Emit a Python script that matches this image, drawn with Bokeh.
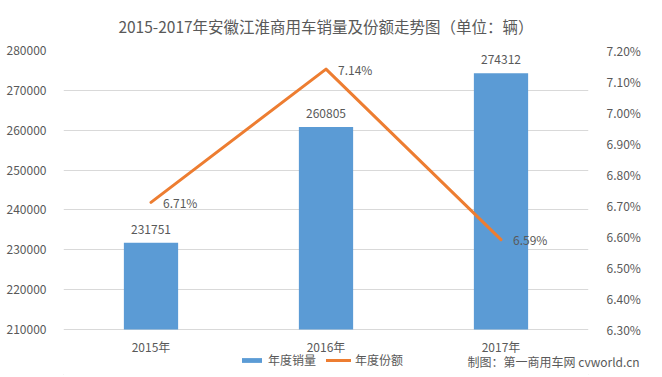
from bokeh.plotting import figure
from bokeh.models import (ColumnDataSource, Range1d, LinearAxis, FixedTicker, NumeralTickFormatter,
                          LabelSet, Legend, LegendItem, FactorRange)
from bokeh.core.properties import value
from bokeh.embed import file_html
from bokeh.resources import INLINE

# ---- data ----
years = ["2015年", "2016年", "2017年"]
sales = [231751, 260805, 274312]
share = [0.0671, 0.0714, 0.0659]
share_labels = ["6.71%", "7.14%", "6.59%"]
sales_ticks = [210000, 220000, 230000, 240000, 250000, 260000, 270000, 280000]
share_ticks = [0.063, 0.064, 0.065, 0.066, 0.067, 0.068, 0.069, 0.070, 0.071, 0.072]
series_names = ["年度销量", "年度份额"]
credit = "制图：第一商用车网 cvworld.cn"

FONT = "Noto Sans CJK SC"
TXT = "#595959"
GRID = "#D9D9D9"
BLUE = "#5B9BD5"
ORANGE = "#ED7D31"

# layout: frame spans from y=50 to bottom of canvas; axis value 210000 sits 48px above bottom
W, H, TOP, LEFT, RIGHT = 662, 377, 50, 63, 74
AXIS_PX = 279            # pixels between lowest and highest tick
BELOW_PX = H - TOP - AXIS_PX
s_lo, s_hi = sales_ticks[0], sales_ticks[-1]
p_lo, p_hi = share_ticks[0], share_ticks[-1]
s_start = s_lo - (s_hi - s_lo) * BELOW_PX / AXIS_PX
p_start = p_lo - (p_hi - p_lo) * BELOW_PX / AXIS_PX
CREDIT_ROW = 16          # px above canvas bottom

src = ColumnDataSource(dict(x=years, sales=sales, share=share,
                            sales_txt=[str(v) for v in sales], share_txt=share_labels))

p = figure(width=W, height=H, x_range=FactorRange(*years, range_padding=0),
           y_range=Range1d(s_start, s_hi), output_backend="svg", toolbar_location=None,
           x_axis_location=None,
           min_border_left=LEFT, min_border_right=RIGHT, min_border_top=TOP, min_border_bottom=0,
           styles={"outline": "1px solid #D9D9D9", "outline-offset": "-3px"})
p.outline_line_color = None
p.background_fill_color = "white"
p.border_fill_color = "white"

p.extra_y_ranges = {"pct": Range1d(p_start, p_hi), "px": Range1d(0, H - TOP)}

p.title.text = "2015-2017年安徽江淮商用车销量及份额走势图（单位：辆）"
p.title.align = "center"
p.title.vertical_align = "top"
p.title.text_font = FONT
p.title.text_font_size = "15.5px"
p.title.text_font_style = "normal"
p.title.text_color = TXT
p.title.standoff = 24

# left axis
ya = p.yaxis[0]
ya.ticker = FixedTicker(ticks=sales_ticks)
ya.formatter = NumeralTickFormatter(format="0")
ya.axis_line_color = None
ya.major_tick_line_color = None
ya.minor_tick_line_color = None
ya.major_label_standoff = 11
ya.major_label_text_font = FONT
ya.major_label_text_font_size = "12px"
ya.major_label_text_color = TXT

# right axis
ra = LinearAxis(y_range_name="pct", ticker=FixedTicker(ticks=share_ticks),
                formatter=NumeralTickFormatter(format="0.00%"))
ra.axis_line_color = None
ra.major_tick_line_color = None
ra.minor_tick_line_color = None
ra.major_label_standoff = 12
ra.major_label_text_font = FONT
ra.major_label_text_font_size = "12px"
ra.major_label_text_color = TXT
p.add_layout(ra, "right")

# credit line (bottom right), drawn as an unclipped side-panel label
ca = LinearAxis(y_range_name="px", ticker=FixedTicker(ticks=[CREDIT_ROW]),
                major_label_overrides={CREDIT_ROW: credit})
ca.axis_line_color = None
ca.major_tick_line_color = None
ca.minor_tick_line_color = None
ca.major_label_standoff = -182
ca.major_label_text_font = FONT
ca.major_label_text_font_size = "12px"
ca.major_label_text_color = TXT
p.add_layout(ca, "right")

p.xgrid.grid_line_color = None
p.ygrid.grid_line_color = GRID
p.ygrid.ticker = FixedTicker(ticks=sales_ticks)

bars = p.vbar(x="x", top="sales", bottom=s_lo, width=0.31, source=src,
              fill_color=BLUE, line_color=None)
line = p.line(x="x", y="share", source=src, y_range_name="pct",
              line_color=ORANGE, line_width=3, line_cap="round", line_join="round")

# category labels (x axis)
p.add_layout(LabelSet(x="x", y=s_lo, text="x", source=src, text_align="center",
                      text_baseline="middle", y_offset=-17, text_font=value(FONT),
                      text_font_size=value("12px"), text_color=TXT))

p.add_layout(LabelSet(x="x", y="sales", text="sales_txt", source=src, text_align="center",
                      text_baseline="bottom", y_offset=9, text_font=value(FONT),
                      text_font_size=value("12px"), text_color=TXT))
p.add_layout(LabelSet(x="x", y="share", text="share_txt", source=src, y_range_name="pct",
                      text_align="left", text_baseline="middle", x_offset=12, y_offset=0,
                      text_font=value(FONT), text_font_size=value("12px"), text_color=TXT))

legend = Legend(items=[LegendItem(label=series_names[0], renderers=[bars]),
                       LegendItem(label=series_names[1], renderers=[line])],
                orientation="horizontal", location=(239 - LEFT, 9),
                glyph_width=25, glyph_height=6, label_height=14, label_standoff=4,
                spacing=10, padding=0, margin=0, border_line_color=None,
                background_fill_alpha=0,
                label_text_font=FONT, label_text_font_size="12px", label_text_color=TXT)
p.add_layout(legend)

open("out.html", "w").write(file_html(p, INLINE))
